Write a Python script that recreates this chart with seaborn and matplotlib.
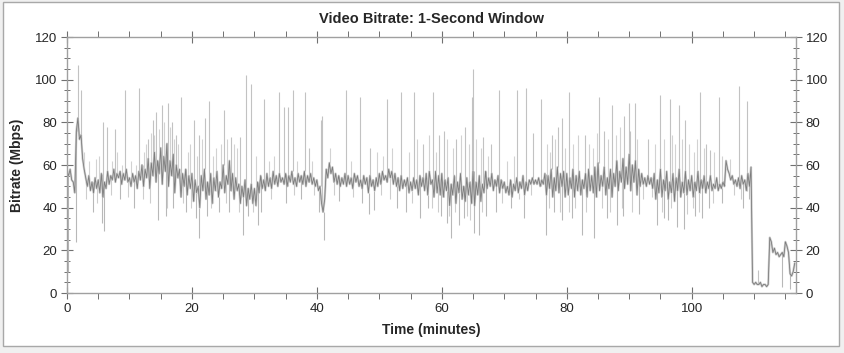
import numpy as np
import pandas as pd
import matplotlib
matplotlib.use("Agg")
import matplotlib.pyplot as plt
from matplotlib.patches import Rectangle
from matplotlib.ticker import MultipleLocator
import seaborn as sns

# ---------------- data ----------------
# bitrate band, sampled every 0.25 minute (Mbps)
step_minutes = 0.25
base_bitrate = [
    57, 55, 58, 53, 52, 47, 76, 82, 72, 74, 63, 58, 54, 50, 55, 48, 52, 47, 54, 49,   # 0-5
    53, 47, 56, 45, 52, 49, 57, 51, 55, 53, 58, 52, 56, 54, 57, 51, 56, 53, 58, 52,   # 5-10
    54, 50, 56, 52, 55, 49, 57, 53, 60, 50, 58, 54, 63, 49, 61, 55, 66, 52, 62, 56,   # 10-15
    68, 51, 64, 57, 70, 50, 62, 55, 65, 47, 60, 54, 58, 45, 56, 50, 58, 46, 55, 49,   # 15-20
    56, 43, 53, 47, 50, 40, 55, 48, 58, 44, 52, 46, 56, 42, 54, 48, 57, 45, 52, 49,   # 20-25
    60, 47, 55, 51, 62, 48, 56, 44, 54, 48, 51, 42, 50, 45, 53, 41, 49, 44, 51, 42,   # 25-30
    49, 41, 52, 47, 55, 49, 53, 48, 56, 50, 54, 49, 57, 51, 55, 50, 56, 52, 54, 51,   # 30-35
    56, 50, 55, 52, 57, 51, 54, 50, 56, 52, 55, 51, 57, 50, 55, 52, 56, 51, 54, 50,   # 35-40
    53, 48, 50, 42, 38, 44, 58, 54, 61, 56, 59, 52, 56, 51, 55, 50, 54, 51, 56, 50,   # 40-45
    55, 51, 54, 49, 56, 52, 55, 50, 53, 49, 55, 51, 54, 47, 55, 50, 53, 48, 54, 50,   # 45-50
    56, 51, 57, 53, 55, 52, 58, 54, 57, 51, 56, 50, 54, 48, 55, 49, 53, 50, 54, 47,   # 50-55
    52, 48, 54, 49, 53, 46, 55, 50, 54, 48, 56, 46, 57, 51, 53, 45, 57, 47, 55, 46,   # 55-60
    56, 45, 53, 48, 54, 41, 51, 46, 55, 42, 52, 47, 56, 44, 50, 43, 54, 46, 52, 42,   # 60-65
    57, 41, 52, 46, 55, 43, 51, 47, 57, 49, 54, 50, 56, 48, 53, 50, 55, 47, 53, 49,   # 65-70
    52, 47, 50, 46, 53, 45, 51, 48, 54, 47, 52, 49, 55, 46, 52, 48, 53, 51, 54, 51,   # 70-75
    53, 51, 54, 50, 53, 51, 56, 46, 55, 49, 58, 45, 54, 48, 59, 47, 56, 50, 57, 45,   # 75-80
    56, 46, 54, 49, 58, 45, 55, 48, 57, 46, 53, 49, 56, 45, 58, 48, 55, 47, 59, 45,   # 80-85
    61, 48, 55, 50, 59, 46, 54, 49, 58, 45, 56, 50, 62, 48, 57, 52, 63, 49, 59, 51,   # 85-90
    65, 48, 60, 52, 62, 46, 58, 50, 56, 51, 54, 50, 55, 51, 54, 49, 56, 44, 53, 47,   # 90-95
    58, 45, 53, 48, 57, 44, 52, 47, 56, 43, 54, 48, 58, 45, 52, 47, 57, 46, 53, 48,   # 95-100
    55, 45, 52, 48, 57, 47, 53, 49, 55, 47, 52, 49, 55, 48, 51, 49, 54, 48, 51, 49,   # 100-105
    52, 50, 62, 58, 56, 53, 55, 51, 53, 50, 54, 49, 55, 51, 53, 48, 56, 50, 59, 5,    # 105-110
    4, 5, 4, 4, 5, 3, 4, 4, 3, 4, 26, 24, 19, 21, 18, 19, 17, 18, 19, 17,             # 110-115
    24, 22, 19, 9, 8, 10, 14,                                                         # 115-116.5
]

# tall upward bursts (minute, Mbps)
spike_minutes = [1.6, 1.8, 2.2, 5.8, 6.4, 7.7, 9.3, 11.6, 13.0, 13.8, 14.3, 15.2, 16.2, 16.8,
                 17.5, 18.3, 20.3, 21.1, 22.1, 22.8, 25.1, 26.3, 27.7, 28.7, 29.5, 31.6, 34.0,
                 34.8, 35.3, 36.1, 38.1, 38.8, 40.6, 40.9, 44.7, 46.9, 48.5, 51.3, 53.4, 55.6,
                 57.0, 58.6, 59.5, 60.3, 62.3, 63.7, 64.8, 65.0, 66.6, 67.9, 69.2, 72.1, 73.5,
                 74.6, 75.8, 77.6, 78.6, 79.3, 80.4, 82.9, 85.1, 86.0, 87.3, 89.2, 89.9, 90.2,
                 90.9, 93.0, 95.0, 96.5, 98.0, 99.0, 101.3, 102.3, 103.0, 104.4, 107.6, 108.8,
                 110.6]
spike_values = [82, 107, 95, 80, 78, 77, 95, 96, 72, 81, 85, 88, 89, 80,
                74, 92, 81, 74, 82, 90, 86, 73, 73, 102, 98, 91, 94,
                87, 87, 95, 94, 68, 81, 83, 95, 92, 68, 91, 94, 94,
                70, 94, 74, 76, 72, 78, 92, 105, 73, 70, 95, 95, 96,
                75, 91, 74, 78, 82, 94, 74, 92, 76, 88, 83, 89, 76,
                89, 72, 93, 91, 88, 81, 94, 70, 67, 92, 97, 90,
                11]

# deep downward drops (minute, Mbps)
dip_minutes = [0.15, 1.4, 4.1, 5.6, 6.0, 8.5, 10.8, 14.6, 15.9, 17.0, 19.0, 20.7, 21.2, 22.4,
               24.3, 26.0, 28.2, 29.0, 30.5, 31.1, 35.0, 37.4, 40.3, 41.1, 43.5, 47.2, 48.3,
               49.2, 52.8, 54.3, 56.5, 57.8, 59.9, 60.8, 61.5, 62.8, 63.5, 65.1, 66.0, 67.0,
               68.6, 71.0, 73.2, 76.6, 77.9, 79.2, 80.9, 82.5, 84.4, 86.5, 88.0, 89.0, 91.5,
               94.5, 95.5, 96.2, 97.6, 98.8, 100.6, 101.6, 102.8, 104.8, 108.2, 109.2,
               114.4, 115.8]
dip_values = [10, 24, 38, 33, 29, 44, 40, 34, 36, 40, 38, 35, 26, 36,
              38, 38, 27, 36, 32, 38, 42, 44, 38, 25, 43, 42, 37,
              39, 40, 38, 35, 40, 36, 33, 26, 32, 35, 28, 27, 36,
              38, 40, 35, 27, 38, 34, 35, 27, 26, 35, 32, 36, 37,
              32, 35, 34, 31, 30, 36, 35, 40, 42, 40, 44,
              3, 2]

# smaller excursions above the band (minute, Mbps)
minor_up_minutes = [2.8, 3.6, 4.6, 5.2, 7.2, 8.0, 8.8, 10.2, 11.0, 12.3, 12.7, 13.4, 14.0, 14.8,
                    15.5, 16.5, 17.2, 17.8, 19.4, 19.7, 20.8, 21.6, 23.3, 23.8, 24.6, 25.6,
                    26.8, 27.2, 30.2, 32.3, 33.2, 36.8, 39.2, 42.1, 45.5, 49.7, 50.6, 52.1,
                    54.7, 56.0, 58.0, 59.1, 60.9, 61.8, 63.1, 64.3, 65.5, 66.2, 67.4, 70.5,
                    71.5, 76.9, 77.3, 78.1, 79.8, 81.0, 81.8, 83.6, 84.2, 84.8, 86.6, 87.9,
                    88.6, 91.3, 94.2, 95.6, 96.9, 97.3, 98.5, 99.6, 100.3, 100.9, 101.9,
                    103.6, 104.9, 106.2]
minor_up_values = [66, 62, 63, 64, 62, 66, 60, 62, 60, 66, 70, 75, 74, 77,
                   80, 78, 72, 70, 66, 70, 64, 72, 64, 68, 70, 72,
                   70, 68, 64, 62, 64, 62, 62, 68, 62, 66, 64, 68,
                   66, 72, 74, 66, 72, 68, 74, 70, 72, 68, 64, 62,
                   64, 70, 66, 72, 68, 70, 74, 70, 68, 75, 72, 74,
                   78, 72, 70, 72, 74, 70, 72, 70, 66, 72, 68,
                   66, 64, 63]

# smaller excursions below the band (minute, Mbps)
minor_down_minutes = [3.1, 4.8, 7.0, 9.7, 12.1, 13.3, 16.0, 18.6, 19.8, 23.0, 25.4, 27.5, 29.8,
                      32.6, 36.4, 39.5, 42.8, 45.8, 50.2, 51.7, 55.2, 58.4, 59.4, 61.2, 62.1,
                      64.0, 64.5, 66.5, 69.6, 72.3, 74.3, 77.2, 78.9, 80.3, 81.4, 83.1, 85.6,
                      87.0, 88.8, 90.5, 92.2, 93.6, 95.2, 96.7, 99.3, 100.2, 101.2, 103.4,
                      106.8, 107.9]
minor_down_values = [44, 42, 46, 45, 44, 42, 40, 42, 40, 40, 42, 38, 38,
                     44, 46, 46, 46, 45, 46, 44, 42, 40, 38, 36, 38,
                     36, 34, 38, 42, 44, 46, 40, 38, 38, 40, 38, 40,
                     38, 40, 38, 44, 45, 38, 40, 37, 40, 38, 42,
                     46, 44]

x_ticks = [0, 20, 40, 60, 80, 100]
y_ticks = [0, 20, 40, 60, 80, 100, 120]

# ---------------- build tables ----------------
base_minutes = np.arange(len(base_bitrate)) * step_minutes
base_df = pd.DataFrame({"minute": base_minutes, "bitrate": base_bitrate})
base_arr = np.asarray(base_bitrate, dtype=float)


def root_level(minutes):
    idx = np.clip(np.round(np.asarray(minutes) / step_minutes).astype(int), 0, len(base_arr) - 1)
    return base_arr[idx]


# ---------------- figure ----------------
sns.set_theme(style="white")
plt.rcParams["font.family"] = ["Liberation Sans", "DejaVu Sans"]

W, H = 845, 353
fig = plt.figure(figsize=(W / 100, H / 100), dpi=100)
fig.patch.set_facecolor("#f0f0f0")
fig.patches.append(Rectangle((3 / W, 1 - 346 / H), 836 / W, 344 / H,
                             transform=fig.transFigure, facecolor="white",
                             edgecolor="#a8a8a8", linewidth=1.0, zorder=-10))

ax = fig.add_axes([67 / W, 1 - 293 / H, (796 - 67) / W, (293 - 37) / H])
ax.set_facecolor("white")

# light fringe of the band
sns.lineplot(data=base_df, x="minute", y="bitrate", ax=ax, sort=False,
             estimator=None, color="#cccccc", linewidth=1.6)
# small excursions
ax.vlines(minor_up_minutes, root_level(minor_up_minutes), minor_up_values,
          color="#d2d2d2", linewidth=0.8)
ax.vlines(minor_down_minutes, root_level(minor_down_minutes), minor_down_values,
          color="#cdcdcd", linewidth=0.8)
# bursts and drops
ax.vlines(spike_minutes, root_level(spike_minutes), spike_values,
          color="#c2c2c2", linewidth=0.8)
ax.vlines(dip_minutes, root_level(dip_minutes), dip_values,
          color="#b8b8b8", linewidth=0.8)
# core line
sns.lineplot(data=base_df, x="minute", y="bitrate", ax=ax, sort=False,
             estimator=None, color="#7c7c7c", linewidth=0.6)

ax.set_xlim(0, 116.7)
ax.set_ylim(0, 120)
ax.set_xticks(x_ticks)
ax.set_yticks(y_ticks)
ax.xaxis.set_minor_locator(MultipleLocator(5))
ax.yaxis.set_minor_locator(MultipleLocator(5))

for s in ax.spines.values():
    s.set_color("#a0a0a0")
    s.set_linewidth(1.0)

ax.tick_params(axis="y", which="major", direction="inout", length=8, width=0.8,
               color="#707070", left=True, right=True, labelleft=True, labelright=True,
               labelsize=9.5, pad=3)
ax.tick_params(axis="y", which="minor", direction="inout", length=5, width=0.7,
               color="#707070", left=True, right=True)
ax.tick_params(axis="x", which="major", direction="inout", length=8, width=0.8,
               color="#707070", bottom=True, top=True, labelsize=9.5, pad=3)
ax.tick_params(axis="x", which="minor", direction="out", length=4, width=0.7,
               color="#707070", bottom=True, top=True)
ax.grid(False)

ax.set_xlabel("Time (minutes)", fontsize=10, fontweight="bold", labelpad=6)
ax.set_ylabel("Bitrate (Mbps)", fontsize=10, fontweight="bold", labelpad=8)
ax.set_title("Video Bitrate: 1-Second Window", fontsize=10.5, fontweight="bold", pad=10)

fig.savefig("out.png", dpi=100, facecolor=fig.get_facecolor())
